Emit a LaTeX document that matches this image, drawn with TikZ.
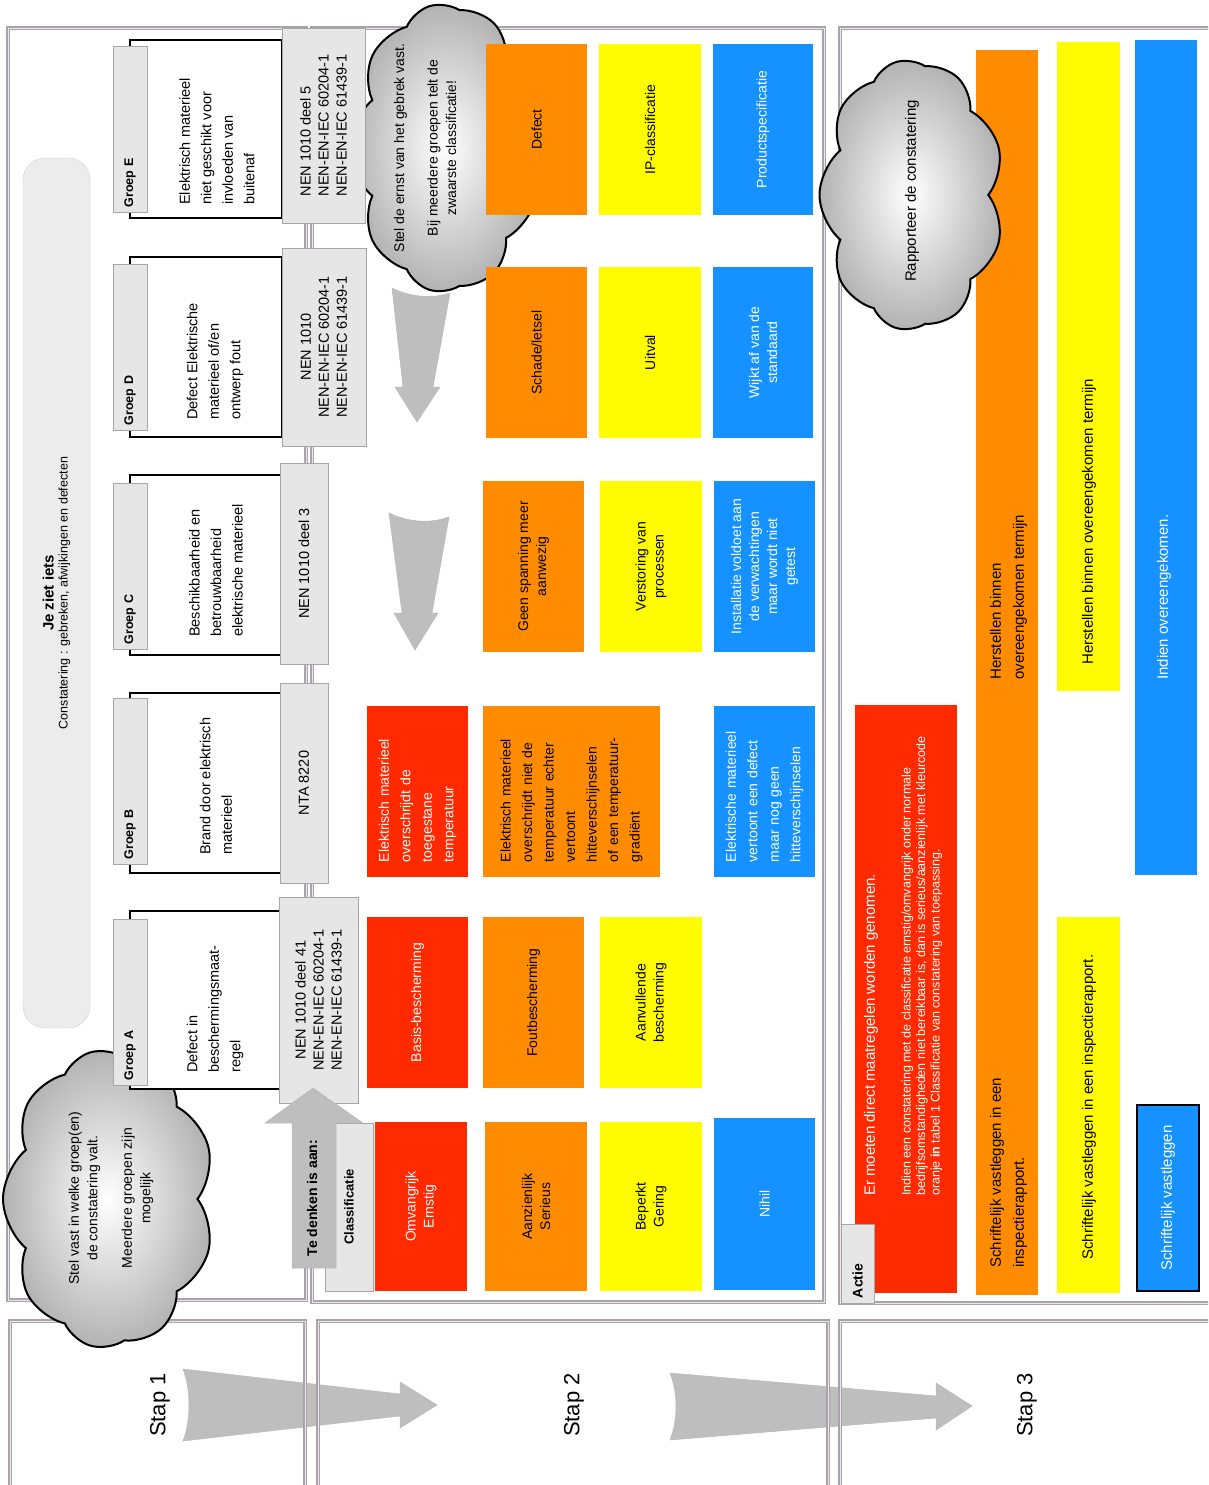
\documentclass[tikz,border=0pt]{standalone}
\usepackage{fontspec}
\setmainfont{Liberation Sans}
\usetikzlibrary{shapes.symbols}
\definecolor{rood}{HTML}{FF2A00}
\definecolor{oranje}{HTML}{FF8C00}
\definecolor{geel}{HTML}{FFFB00}
\definecolor{blauw}{HTML}{1592FF}
\definecolor{randgrijs}{HTML}{A9A3A9}
\definecolor{licht}{HTML}{E6E6E6}
\definecolor{pijlgrijs}{HTML}{BEBEBE}
\tikzset{
  paneel/.style={draw=randgrijs,line width=1.1pt,double=randgrijs!25,double distance=0.9pt},
  vak/.style={rotate=90,inner sep=0pt,align=center,font=\fontsize{14}{18}\selectfont},
  wit/.style={text=white},
  grijsvak/.style={vak,fill=licht,draw=gray!70,line width=0.9pt},
  groeplabel/.style={grijsvak,inner xsep=5pt,text width=156pt,align=left,minimum height=34pt,font=\fontsize{12.5}{14}\selectfont\bfseries},
  groepkader/.style={draw=black,line width=2.2pt,fill=white,minimum width=152pt},
  omschr/.style={rotate=90,anchor=west,inner sep=0pt,align=left,font=\fontsize{14.5}{21.5}\selectfont},
  normvak/.style={grijsvak,font=\fontsize{14.5}{18}\selectfont},
  wolk/.style={cloud,cloud puffs=9,cloud puff arc=100,cloud ignores aspect,draw=black,line width=2pt,inner color=white,outer color=gray!60,rotate=90},
  wolktekst/.style={rotate=90,inner sep=0pt,align=center,font=\fontsize{14}{18.5}\selectfont},
  grootpijl/.style={fill=pijlgrijs,draw=gray!55,line width=0.5pt},
  regel/.style={rotate=90,anchor=west,inner sep=0pt,align=left,font=\fontsize{15}{23}\selectfont}
}
\begin{document}
\begin{tikzpicture}[x=1pt,y=-1pt]
\useasboundingbox (0,0) rectangle (1208,1485);
\fill[white] (0,0) rectangle (1208,1485);
\clip (0,0) rectangle (1208,1485);

% stap-pijlen onder de panelen
\draw[grootpijl] (183,1369) -- (400,1394) -- (400,1382) -- (437,1405) -- (400,1428) -- (400,1416) -- (183,1441) .. controls (191,1420) and (191,1390) .. (183,1369) -- cycle;
\draw[grootpijl] (670,1373) -- (936,1396) -- (936,1383) -- (972,1406) -- (936,1430) -- (936,1418) -- (670,1440) .. controls (678,1420) and (678,1393) .. (670,1373) -- cycle;

% panelen
\draw[paneel] (8,28) rectangle (306,1300);
\draw[paneel] (312,28) rectangle (824,1302);
\draw[paneel] (840,28) rectangle (1230,1303);
\draw[paneel] (10,1321) rectangle (305,1500);
\draw[paneel] (318,1321) rectangle (828,1500);
\draw[paneel] (840,1321) rectangle (1230,1500);

\node[rotate=90,font=\fontsize{22}{24}\selectfont] (stap1) at (160,1405) {Stap 1};
\node[rotate=90,font=\fontsize{22}{24}\selectfont] (stap2) at (574,1405) {Stap 2};
\node[rotate=90,font=\fontsize{22}{24}\selectfont] (stap3) at (1027,1405) {Stap 3};

\node[vak,fill=licht!75,draw=gray!35,rounded corners=22pt,minimum width=870pt,minimum height=67pt,font=\fontsize{12.5}{14}\selectfont] (zietIets) at (56.5,593)
  {{\fontsize{15}{15}\selectfont\bfseries Je ziet iets}\\Constatering : gebreken, afwijkingen en defecten};

% wolken
\node[wolk,minimum width=288pt,minimum height=192pt] (wolkErnst) at (446,148) {};
\node[wolk,minimum width=298pt,minimum height=212pt] (wolkGroep) at (109,1199) {};
\node[wolktekst] (tekstErnst) at (425,148) {Stel de ernst van het gebrek vast.\\[15pt]Bij meerdere groepen telt de\\zwaarste classificatie!};
\node[wolktekst] (tekstGroep) at (111,1198) {Stel vast in welke groep(en)\\de constatering valt.\\[16pt]Meerdere groepen zijn\\mogelijk};

% groepen A t/m E
\node[groepkader,minimum height=178pt] (kaderE) at (206,129) {};
\node[groepkader,minimum height=180pt] (kaderD) at (206,347) {};
\node[groepkader,minimum height=180pt] (kaderC) at (206,565) {};
\node[groepkader,minimum height=180pt] (kaderB) at (206,783) {};
\node[groepkader,minimum height=178pt] (kaderA) at (206,1000) {};

\node[groeplabel] (groepE) at (130,129.5) {Groep E};
\node[groeplabel] (groepD) at (130,347.5) {Groep D};
\node[groeplabel] (groepC) at (130,566.5) {Groep C};
\node[groeplabel] (groepB) at (130,781.5) {Groep B};
\node[groeplabel] (groepA) at (130,1002.5) {Groep A};

\node[omschr] (omschrE) at (217,205) {Elektrisch materieel\\niet geschikt voor\\invloeden van\\buitenaf};
\node[omschr] (omschrD) at (215,420) {Defect Elektrische\\materieel of/en\\ontwerp fout};
\node[omschr] (omschrC) at (216,637) {Beschikbaarheid en\\betrouwbaarheid\\elektrische materieel};
\node[omschr] (omschrB) at (216,855) {Brand door elektrisch\\materieel};
\node[omschr] (omschrA) at (215,1073) {Defect in\\beschermingsmaat-\\regel};

\node[normvak,align=left,minimum width=195pt,minimum height=83pt] (normE) at (323.5,125.5) {NEN 1010 deel 5\\NEN-EN-IEC 60204-1\\NEN-EN-IEC 61439-1};
\node[normvak,minimum width=198pt,minimum height=84pt] (normD) at (324,347) {NEN 1010\\NEN-EN-IEC 60204-1\\NEN-EN-IEC 61439-1};
\node[normvak,minimum width=201pt,minimum height=48pt] (normC) at (304,563.5) {NEN 1010 deel 3};
\node[normvak,minimum width=200pt,minimum height=48pt] (normB) at (304,783) {NTA 8220};
\node[normvak,minimum width=206pt,minimum height=79pt] (normA) at (318.5,1000) {NEN 1010 deel 41\\NEN-EN-IEC 60204-1\\NEN-EN-IEC 61439-1};

% pijlen naar de zwaarste groep
\draw[grootpijl] (392,288) .. controls (410,297) and (432,299) .. (450,293) -- (433,387) -- (440,387) -- (417,422) -- (395,387) -- (403,387) -- cycle;
\draw[grootpijl] (389,513) .. controls (407,522) and (430,524) .. (449,517) -- (432,613) -- (438,613) -- (415,650) -- (394,613) -- (402,613) -- cycle;

% stap 2: ernst per groep
\node[vak,fill=oranje,minimum width=171pt,minimum height=101pt] (eOranje) at (536.5,129.5) {Defect};
\node[vak,fill=geel,minimum width=171pt,minimum height=102pt] (eGeel) at (650,129.5) {IP-classificatie};
\node[vak,wit,fill=blauw,minimum width=171pt,minimum height=100pt] (eBlauw) at (763,129.5) {Productspecificatie};

\node[vak,fill=oranje,minimum width=171pt,minimum height=101pt] (dOranje) at (536.5,352.5) {Schade/letsel};
\node[vak,fill=geel,minimum width=171pt,minimum height=102pt] (dGeel) at (650,352.5) {Uitval};
\node[vak,wit,fill=blauw,minimum width=171pt,minimum height=100pt] (dBlauw) at (763,352.5) {Wijkt af van de\\standaard};

\node[vak,fill=oranje,minimum width=171pt,minimum height=101pt] (cOranje) at (533.5,566.5) {Geen spanning meer\\aanwezig};
\node[vak,fill=geel,minimum width=171pt,minimum height=102pt] (cGeel) at (651,566.5) {Verstoring van\\processen};
\node[vak,wit,fill=blauw,minimum width=171pt,minimum height=101pt] (cBlauw) at (764.5,566.5) {Installatie voldoet aan\\de verwachtingen\\maar wordt niet\\getest};

\node[vak,wit,fill=rood,minimum height=101pt,text width=141pt,inner xsep=15pt,align=left,font=\fontsize{14}{21.5}\selectfont] (bRood) at (417.5,791.5) {Elektrisch materieel\\overschrijdt de\\toegestane\\temperatuur};
\node[vak,fill=oranje,minimum height=177pt,text width=141pt,inner xsep=15pt,align=left,font=\fontsize{14}{21.5}\selectfont] (bOranje) at (571.5,791.5) {Elektrisch materieel\\overschrijdt niet de\\temperatuur echter\\vertoont\\hitteverschijnselen\\of een temperatuur-\\gradiënt};
\node[vak,wit,fill=blauw,minimum height=101pt,text width=141pt,inner xsep=15pt,align=left,font=\fontsize{14}{21.5}\selectfont] (bBlauw) at (764.5,791.5) {Elektrische materieel\\vertoont een defect\\maar nog geen\\hitteverschijnselen};

\node[vak,wit,fill=rood,minimum width=171pt,minimum height=101pt] (aRood) at (417.5,1002.5) {Basis-bescherming};
\node[vak,fill=oranje,minimum width=171pt,minimum height=101pt] (aOranje) at (533.5,1002.5) {Foutbescherming};
\node[vak,fill=geel,minimum width=171pt,minimum height=102pt] (aGeel) at (651,1002.5) {Aanvullende\\bescherming};

\node[grijsvak,minimum width=168pt,minimum height=48pt,font=\fontsize{13}{14}\selectfont\bfseries] (klasLabel) at (349,1207) {Classificatie};
\node[vak,wit,fill=rood,minimum width=169pt,minimum height=92pt] (klasRood) at (421,1206.5) {Omvangrijk\\Ernstig};
\node[vak,fill=oranje,minimum width=169pt,minimum height=102pt] (klasOranje) at (536,1206.5) {Aanzienlijk\\Serieus};
\node[vak,fill=geel,minimum width=169pt,minimum height=102pt] (klasGeel) at (651,1206.5) {Beperkt\\Gering};
\node[vak,wit,fill=blauw,minimum width=172pt,minimum height=101pt] (klasBlauw) at (764.5,1204) {Nihil};

\draw[grootpijl] (292,1268) -- (292,1123) -- (265,1123) -- (313,1088) -- (363,1123) -- (336,1123) -- (336,1268) -- cycle;
\node[rotate=90,font=\fontsize{14}{15}\selectfont\bfseries] (teDenken) at (312,1198) {Te denken is aan:};

% stap 3: actie
\node[vak,fill=rood,minimum width=588pt,minimum height=102pt] (actieRood) at (906,999) {};
\node[grijsvak,inner xsep=5pt,text width=69pt,align=left,minimum height=33pt,font=\fontsize{14}{15}\selectfont\bfseries] (actieLabel) at (857.5,1263.5) {Actie};
\node[regel,wit] (actieKop) at (871,1196) {Er moeten direct maatregelen worden genomen.};
\node[regel,wit,font=\fontsize{12.5}{14.5}\selectfont] (actieUitleg) at (922,1196) {Indien een constatering met de classificatie ernstig/omvangrijk onder normale\\bedrijfsomstandigheden niet bereikbaar is, dan is serieus/aanzienlijk met kleurcode\\oranje \textbf{in} tabel 1 Classificatie van constatering van toepassing.};

\node[vak,fill=oranje,minimum width=1245pt,minimum height=62pt] (oranjeBalk) at (1007,672.5) {};
\node[vak,fill=geel,minimum width=649pt,minimum height=63pt] (geelBoven) at (1088.5,366.5) {};
\node[vak,fill=geel,minimum width=376pt,minimum height=63pt] (geelOnder) at (1088.5,1105) {};
\node[vak,fill=blauw,minimum width=835pt,minimum height=62pt] (blauwBoven) at (1166,457.5) {};
\node[vak,wit,fill=blauw,draw=black,line width=1.5pt,minimum width=186pt,minimum height=62pt,font=\fontsize{15}{18}\selectfont] (blauwOnder) at (1168,1198) {Schriftelijk vastleggen};

\node[wolk,minimum width=270pt,minimum height=185pt] (wolkRapport) at (912,195) {};
\node[wolktekst,font=\fontsize{15}{18}\selectfont] (tekstRapport) at (912,191) {Rapporteer de constatering};

\node[regel] (oranjeHerstel) at (1008.5,680) {Herstellen binnen\\overeengekomen termijn};
\node[regel] (oranjeSchrift) at (1008.5,1268) {Schriftelijk vastleggen in een\\inspectierapport.};
\node[regel] (geelHerstel) at (1089,665) {Herstellen binnen overeengekomen termijn};
\node[regel] (geelSchrift) at (1089,1260) {Schriftelijk vastleggen in een inspectierapport.};
\node[regel,wit] (blauwIndien) at (1164,680) {Indien overeengekomen.};
\end{tikzpicture}
\end{document}
